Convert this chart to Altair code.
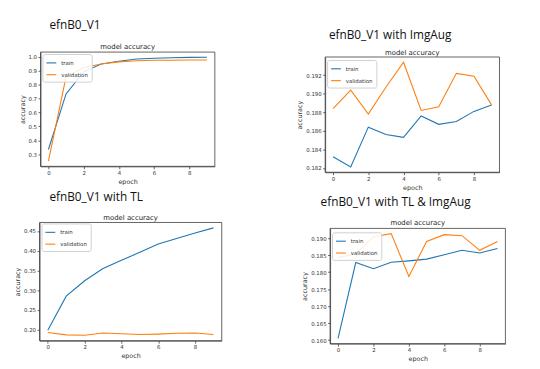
import altair as alt
import pandas as pd

# ---------------- data ----------------
epochs = [0, 1, 2, 3, 4, 5, 6, 7, 8, 9]
series_names = ["train", "validation"]

panel_titles = ["efnB0_V1", "efnB0_V1 with ImgAug", "efnB0_V1 with TL", "efnB0_V1 with TL & ImgAug"]
sub_title = "model accuracy"

p1_train = [0.334, 0.734, 0.893, 0.950, 0.970, 0.985, 0.991, 0.995, 0.997, 0.998]
p1_val = [0.250, 0.857, 0.925, 0.950, 0.965, 0.973, 0.976, 0.977, 0.978, 0.978]

p2_train = [0.1832, 0.1821, 0.1864, 0.1856, 0.1853, 0.1876, 0.1867, 0.1870, 0.1881, 0.1888]
p2_val = [0.1884, 0.1904, 0.1878, 0.1907, 0.1934, 0.1882, 0.1886, 0.1922, 0.1919, 0.1888]

p3_train = [0.199, 0.285, 0.324, 0.355, 0.376, 0.396, 0.417, 0.431, 0.445, 0.458]
p3_val = [0.193, 0.187, 0.186, 0.192, 0.190, 0.188, 0.189, 0.191, 0.192, 0.188]

p4_train = [0.1605, 0.1828, 0.1810, 0.1829, 0.1833, 0.1838, 0.1851, 0.1864, 0.1856, 0.1869]
p4_val = [0.1842, 0.1854, 0.1904, 0.1913, 0.1787, 0.1890, 0.1910, 0.1907, 0.1864, 0.1890]

x_ticks = [0, 2, 4, 6, 8]
p1_yticks = [0.3, 0.4, 0.5, 0.6, 0.7, 0.8, 0.9, 1.0]
p2_yticks = [0.182, 0.184, 0.186, 0.188, 0.190, 0.192]
p3_yticks = [0.20, 0.25, 0.30, 0.35, 0.40, 0.45]
p4_yticks = [0.160, 0.165, 0.170, 0.175, 0.180, 0.185, 0.190]

# ---------------- layout ----------------
W, H = 532, 361
BLUE = "#1f77b4"
ORANGE = "#ff7f0e"
AX = "#3c3c3c"


def panel(train, val, xr, yr, yticks, fmt, leg):
    df = pd.DataFrame({
        "epoch": epochs + epochs,
        "acc": train + val,
        "series": [series_names[0]] * len(epochs) + [series_names[1]] * len(epochs),
    })
    lo, hi = min(train + val), max(train + val)
    m = 0.05 * (hi - lo)
    ydom = [lo - m, hi + m]
    xdom = [-0.45, 9.45]
    xs = alt.Scale(domain=xdom, range=xr, nice=False, zero=False)
    ys = alt.Scale(domain=ydom, range=yr, nice=False, zero=False)
    line = alt.Chart(df).mark_line(strokeWidth=1.1).encode(
        x=alt.X("epoch:Q", scale=xs,
                axis=alt.Axis(orient="bottom", offset=yr[0] - H, values=x_ticks,
                              format="d", title="epoch", grid=False)),
        y=alt.Y("acc:Q", scale=ys,
                axis=alt.Axis(orient="left", offset=-xr[0], values=yticks,
                              format=fmt, title="accuracy", grid=False)),
        color=alt.Color("series:N",
                        scale=alt.Scale(domain=series_names, range=[BLUE, ORANGE]),
                        legend=alt.Legend(orient="none", legendX=leg[0], legendY=leg[1],
                                          title=None)),
    )
    frame = alt.Chart(pd.DataFrame({"k": [0]})).mark_rect(
        filled=False, stroke=AX, strokeWidth=0.8
    ).encode(
        x=alt.XDatum(xdom[0], type="quantitative", scale=xs, axis=None),
        x2=alt.X2Datum(xdom[1]),
        y=alt.YDatum(ydom[0], type="quantitative", scale=ys, axis=None),
        y2=alt.Y2Datum(ydom[1]),
    )
    return [frame, line]


def text(s, x, y, size, font, color="#111"):
    return alt.Chart(pd.DataFrame({"t": [s]})).mark_text(
        font=font, fontSize=size, color=color, align="center", baseline="alphabetic"
    ).encode(text="t:N", x=alt.value(x), y=alt.value(y))


layers = []
layers += panel(p1_train, p1_val, [33, 210], [158, 42], p1_yticks, ".1f", (35, 44))
layers += panel(p2_train, p2_val, [322, 499], [164, 47], p2_yticks, ".3f", (324, 50))
layers += panel(p3_train, p3_val, [32, 217], [335, 215], p3_yticks, ".2f", (34, 216))
layers += panel(p4_train, p4_val, [327, 505], [338, 221], p4_yticks, ".3f", (329, 225))

layers += [
    text(panel_titles[0], 68, 18.5, 12, "Open Sans"),
    text(panel_titles[1], 388, 28.5, 12, "Open Sans"),
    text(panel_titles[2], 89.5, 193, 12, "Open Sans"),
    text(panel_titles[3], 393.5, 198.5, 12, "Open Sans"),
    text(sub_title, 121.5, 39, 7, "DejaVu Sans", "#222"),
    text(sub_title, 410.5, 44.5, 7, "DejaVu Sans", "#222"),
    text(sub_title, 124.5, 212, 7, "DejaVu Sans", "#222"),
    text(sub_title, 416, 218, 7, "DejaVu Sans", "#222"),
]

chart = alt.layer(*layers).resolve_scale(
    x="independent", y="independent", color="independent"
).resolve_axis(
    x="independent", y="independent"
).resolve_legend(
    color="independent"
).properties(
    width=W, height=H, padding=0,
    autosize=alt.AutoSizeParams(type="none"),
).configure_view(
    stroke=None
).configure_axis(
    labelFont="DejaVu Sans", labelFontSize=5.5, labelColor="#333",
    titleFont="DejaVu Sans", titleFontSize=6.5, titleFontWeight="normal", titleColor="#333",
    domainColor=AX, domainWidth=0.8, tickColor=AX, tickSize=2.5, tickWidth=0.8,
    labelPadding=1.5, titlePadding=3,
).configure_legend(
    fillColor="rgba(255,255,255,0.85)", strokeColor="#d0d0d0", cornerRadius=2,
    padding=3, symbolType="stroke", symbolSize=100, symbolStrokeWidth=1.1,
    labelFont="DejaVu Sans", labelFontSize=5.5, labelColor="#333",
    rowPadding=2, labelOffset=4,
)

chart.save("out.html", embed_options={"renderer": "svg", "actions": False})
